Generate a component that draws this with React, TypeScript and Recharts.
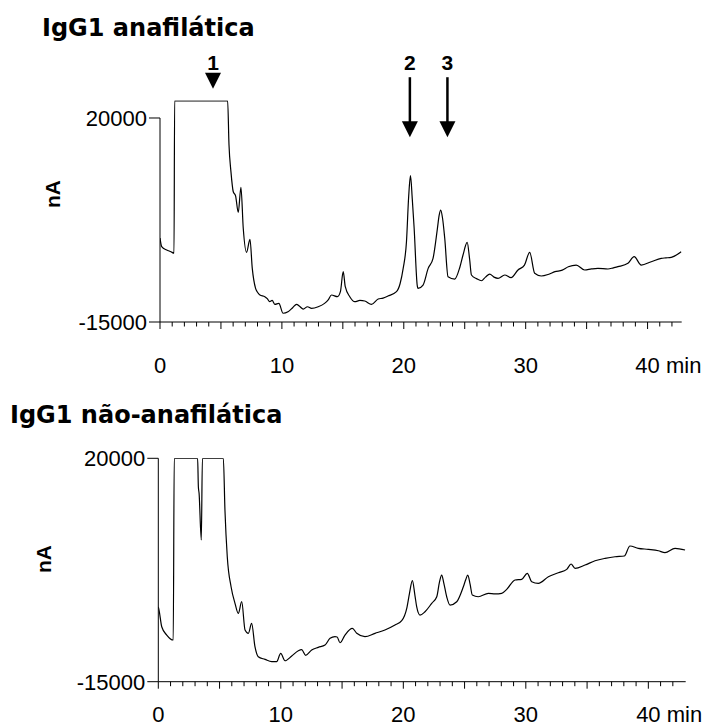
import React from 'react';
import { LineChart, Line, XAxis, YAxis, ReferenceLine, ReferenceDot } from 'recharts';

// retention time (min) and detector signal (nA)
const anaTime = [
  0, 0.14, 0.55, 0.9, 1.15, 1.2, 5.55, 5.66, 5.82, 6.01,
  6.2, 6.42, 6.64, 6.83, 7.1, 7.38, 7.57, 7.84, 8.0, 8.2,
  8.6, 8.8, 9.0, 9.2, 9.43, 9.75, 10.1, 10.5, 10.9, 11.2,
  11.45, 11.75, 12.1, 12.43, 12.98, 13.5, 13.8, 14.07, 14.56, 14.8,
  15.03, 15.2, 15.57, 15.98, 16.4, 16.8, 17.35, 17.9, 18.3, 18.7,
  19.4, 19.7, 19.95, 20.22, 20.4, 20.55, 20.7, 20.85, 21.1, 21.17,
  21.58, 22.0, 22.4, 22.76, 22.9, 23.03, 23.18, 23.36, 23.63, 24.18,
  24.6, 24.86, 25.2, 25.4, 25.55, 26.0, 26.37, 26.7, 27.05, 27.4,
  27.73, 28.28, 28.8, 29.37, 29.9, 30.33, 30.74, 31.28, 31.9, 32.4,
  33.0, 33.5, 34.15, 34.84, 35.4, 35.93, 36.75, 37.2, 37.57, 38.39,
  38.9, 39.48, 40.3, 41.12, 41.5, 41.94, 42.76,
];
const anaSignal = [
  -600, -2080, -2650, -2950, -3200, 22950, 22950, 15400, 10800, 7350,
  6650, 3800, 8100, 1070, -3050, -820, -5800, -9230, -9900, -10370,
  -10660, -11000, -11520, -11300, -11970, -11800, -13500, -13240, -12500, -11970,
  -12300, -12780, -12380, -12660, -12380, -11800, -11200, -10370, -10660, -9800,
  -6370, -8950, -10660, -11520, -11300, -11400, -11970, -11060, -10900, -10550,
  -9800, -8400, -5800, -1230, 6500, 10100, 6000, 1070, -8660, -9230,
  -8660, -5800, -4080, 1070, 3300, 4210, 2800, -640, -7230, -7630,
  -5600, -3510, -1330, -4200, -6940, -7600, -7920, -7300, -6770, -7300,
  -7510, -6940, -7400, -6080, -5230, -3050, -6650, -7110, -6800, -6370,
  -6100, -5510, -5230, -6080, -5900, -5800, -5910, -5700, -5510, -4940,
  -3800, -5230, -4660, -4080, -4000, -3910, -2940,
];

const naoTime = [
  0, 0.06, 0.28, 0.69, 1.22, 1.3, 3.21, 3.27, 3.33, 3.51,
  3.6, 5.31, 5.44, 5.63, 5.94, 6.26, 6.53, 6.81, 7.08, 7.35,
  7.62, 7.89, 8.16, 8.71, 9.26, 9.66, 9.99, 10.34, 10.89, 11.43,
  11.7, 12.03, 12.52, 13.06, 13.61, 14.02, 14.42, 14.6, 14.83, 15.24,
  15.84, 16.2, 16.87, 17.69, 18.5, 19.32, 19.87, 20.28, 20.5, 20.74,
  20.95, 21.09, 21.36, 21.77, 22.32, 22.73, 22.95, 23.13, 23.3, 23.54,
  23.81, 24.36, 24.9, 25.1, 25.26, 25.45, 25.63, 26.12, 26.94, 27.5,
  28.03, 28.44, 29.12, 29.66, 30.12, 30.48, 31.02, 31.84, 32.65, 33.34,
  33.69, 34.02, 34.83, 35.65, 36.47, 37.28, 38.04, 38.5, 39.18, 40.0,
  40.82, 41.36, 42.18, 43.0,
];
const naoSignal = [
  -3300, -3770, -6390, -7690, -8470, 20000, 20000, 15550, 14500, 7200,
  20000, 20000, 11900, 4580, -120, -2720, -4290, -2470, -6900, -7420,
  -5860, -9520, -11090, -11500, -11870, -11870, -10560, -11720, -10980, -10150,
  -9990, -10870, -10040, -9620, -9250, -8210, -7950, -8000, -8900, -7690,
  -6640, -7420, -7950, -7420, -6900, -6120, -5450, -3510, -1200, 820,
  -1500, -3250, -4560, -4040, -2720, -1690, 600, 1710, 500, -1690,
  -2990, -2470, -120, 1000, 1710, 300, -1420, -1690, -1160, -1250,
  -1160, -530, 930, 1040, 1980, 660, 410, 1450, 2070, 2600,
  3440, 2760, 3280, 3950, 4330, 4580, 4690, 6260, 5900, 5740,
  5520, 5210, 5900, 5630,
];

const yTicks = [-15000, 20000];
const minuteTicks = [
  0, 1, 2, 3, 4, 5, 6, 7, 8, 9, 10, 11, 12, 13, 14, 15, 16, 17, 18, 19, 20, 21,
  22, 23, 24, 25, 26, 27, 28, 29, 30, 31, 32, 33, 34, 35, 36, 37, 38, 39, 40, 41, 42,
];
const labelledMinutes = [0, 10, 20, 30, 40];

// arrows marking peaks 1-3 on the anaphylactic trace (tip position in data units)
const peakLabels = ['1', '2', '3'];
const peakTimes = [4.35, 20.5, 23.58];
const peakTips = [25000, 16700, 16700];
const peakShafts = [false, true, true];

const anaData = anaTime.map((t, i) => ({ t, v: anaSignal[i] }));
const naoData = naoTime.map((t, i) => ({ t, v: naoSignal[i] }));

const ARIAL = '"Liberation Sans", Arial, Helvetica, sans-serif';
const VERDANA = '"DejaVu Sans", Verdana, sans-serif';

function MinuteTick(props: any) {
  const { x, y, payload, labelDy } = props;
  const v = payload.value as number;
  const major = v % 5 === 0;
  const isLast = v === 40;
  return (
    <g>
      <line x1={x} y1={y} x2={x} y2={y + (major ? 7 : 4.5)} stroke="#000" strokeWidth={1} />
      {labelledMinutes.includes(v) && (
        <text
          x={isLast ? x - 12.2 : x}
          y={y + labelDy}
          textAnchor={isLast ? 'start' : 'middle'}
          fontFamily={ARIAL}
          fontSize={22}
          fill="#000"
        >
          {isLast ? '40 min' : v}
        </text>
      )}
    </g>
  );
}

function SignalTick(props: any) {
  const { x, y, payload } = props;
  return (
    <text x={x} y={y + 8} textAnchor="end" fontFamily={ARIAL} fontSize={22} fill="#000">
      {payload.value}
    </text>
  );
}

function PeakArrow(props: any) {
  const { cx, cy, label, shaft } = props;
  if (cx == null || cy == null) return null;
  const headTop = cy - 16;
  return (
    <g>
      {shaft && <line x1={cx} y1={cy - 60} x2={cx} y2={headTop + 1} stroke="#000" strokeWidth={2.5} />}
      <polygon points={`${cx - 8},${headTop} ${cx + 8},${headTop} ${cx},${cy}`} fill="#000" />
      <text
        x={cx}
        y={shaft ? cy - 67 : cy - 19}
        textAnchor="middle"
        fontFamily={ARIAL}
        fontWeight="bold"
        fontSize={21}
        fill="#000"
      >
        {label}
      </text>
    </g>
  );
}

interface TraceProps {
  data: { t: number; v: number }[];
  top: number;
  height: number;
  marginTop: number;
  marginRight: number;
  axisWidth: number;
  xAxisHeight: number;
  xMax: number;
  yMax: number;
  labelDy: number;
  unitX: number;
  unitY: number;
  arrows?: boolean;
}

function Trace(p: TraceProps) {
  return (
    <div style={{ position: 'absolute', left: 0, top: p.top }}>
      <LineChart
        width={710}
        height={p.height}
        data={p.data}
        margin={{ top: p.marginTop, right: p.marginRight, bottom: 0, left: 0 }}
      >
        <XAxis
          dataKey="t"
          type="number"
          domain={[0, p.xMax]}
          allowDataOverflow
          ticks={minuteTicks}
          interval={0}
          tickLine={false}
          tickSize={0}
          tickMargin={0}
          height={p.xAxisHeight}
          axisLine={{ stroke: '#000', strokeWidth: 1 }}
          tick={(tp: any) => <MinuteTick {...tp} labelDy={p.labelDy} />}
        />
        <YAxis
          type="number"
          domain={[-15000, p.yMax]}
          allowDataOverflow
          ticks={yTicks}
          interval={0}
          width={p.axisWidth}
          axisLine={false}
          tickSize={11}
          tickMargin={2}
          tickLine={{ stroke: '#000', strokeWidth: 1 }}
          tick={(tp: any) => <SignalTick {...tp} />}
          label={() => (
            <text
              transform={`translate(${p.unitX}, ${p.unitY}) rotate(-90)`}
              textAnchor="middle"
              dominantBaseline="central"
              fontFamily={ARIAL}
              fontWeight="bold"
              fontSize={21}
              fill="#000"
            >
              nA
            </text>
          )}
        />
        <ReferenceLine
          segment={[{ x: 0, y: -15000 }, { x: 0, y: 20000 }]}
          stroke="#000"
          strokeWidth={1}
        />
        <Line
          type="monotoneX"
          dataKey="v"
          stroke="#000"
          strokeWidth={1.2}
          dot={false}
          isAnimationActive={false}
        />
        {p.arrows &&
          peakLabels.map((lbl, i) => (
            <ReferenceDot
              key={lbl}
              x={peakTimes[i]}
              y={peakTips[i]}
              r={0}
              ifOverflow="visible"
              shape={(sp: any) => <PeakArrow {...sp} label={lbl} shaft={peakShafts[i]} />}
            />
          ))}
      </LineChart>
    </div>
  );
}

export default function App() {
  return (
    <div style={{ position: 'absolute', left: 0, top: 0, width: 710, height: 727, background: '#fff' }}>
      <Trace
        data={anaData}
        top={0}
        height={380}
        marginTop={100.5}
        marginRight={28.3}
        axisWidth={160}
        xAxisHeight={58}
        xMax={42.8}
        yMax={23000}
        labelDy={50.7}
        unitX={52.5}
        unitY={194}
        arrows
      />
      <Trace
        data={naoData}
        top={380}
        height={347}
        marginTop={78.3}
        marginRight={24.3}
        axisWidth={158.3}
        xAxisHeight={45.3}
        xMax={43.05}
        yMax={20000}
        labelDy={40.3}
        unitX={43.5}
        unitY={179}
      />
      <svg
        width={710}
        height={727}
        style={{ position: 'absolute', left: 0, top: 0, pointerEvents: 'none' }}
      >
        <text x={42} y={36} fontFamily={VERDANA} fontWeight="bold" fontSize={24} fill="#000">
          IgG1 anafilática
        </text>
        <text x={10} y={423.3} fontFamily={VERDANA} fontWeight="bold" fontSize={24} fill="#000">
          IgG1 não-anafilática
        </text>
      </svg>
    </div>
  );
}
